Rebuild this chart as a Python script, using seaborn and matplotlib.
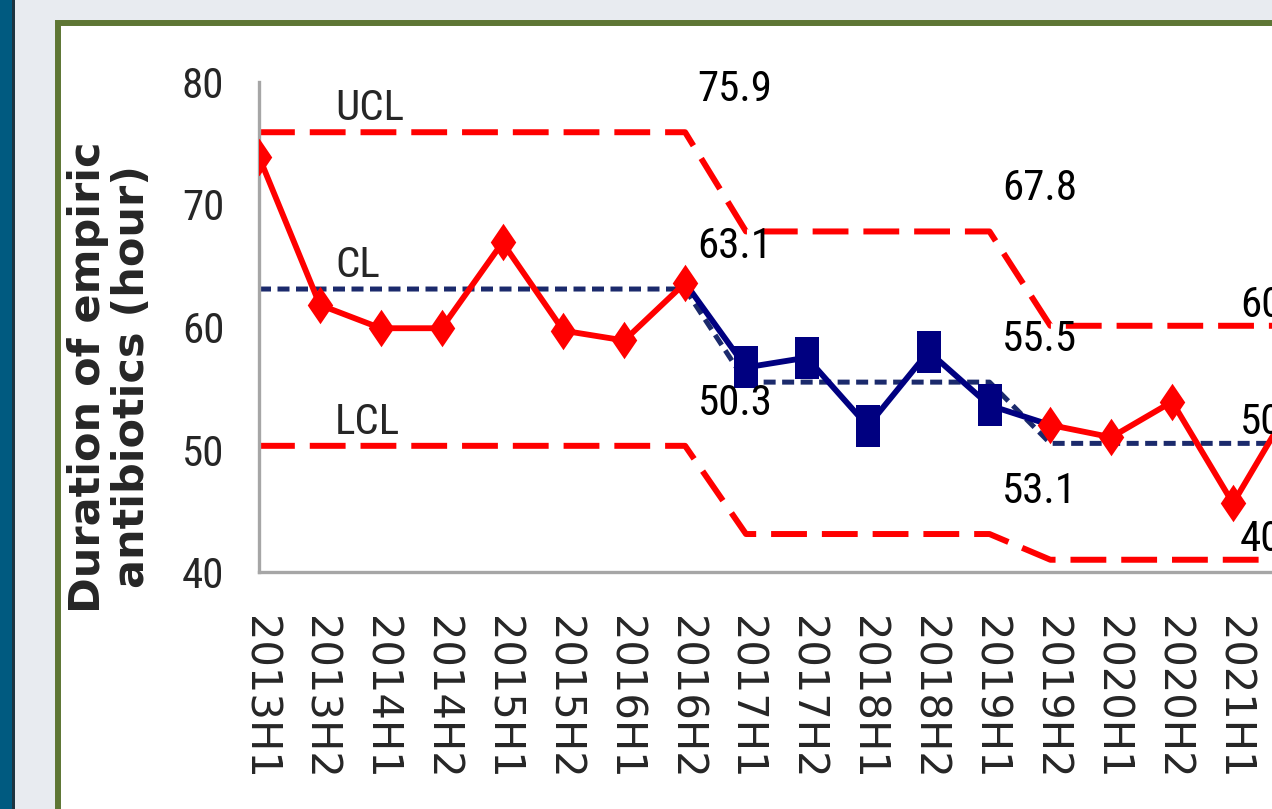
import numpy as np
import pandas as pd
import matplotlib.pyplot as plt
import seaborn as sns
from matplotlib.patches import Rectangle
from matplotlib.font_manager import FontProperties, findfont

periods = ["2013H1", "2013H2", "2014H1", "2014H2", "2015H1", "2015H2",
           "2016H1", "2016H2", "2017H1", "2017H2", "2018H1", "2018H2",
           "2019H1", "2019H2", "2020H1", "2020H2", "2021H1", "2021H2"]
duration = [73.9, 61.8, 59.9, 59.9, 66.9, 59.7, 58.9, 63.6,
            56.7, 57.5, 51.9, 58.0, 53.6,
            52.0, 51.0, 53.9, 45.6, 54.0]
# 0 = baseline, 1 = intervention, 2 = after
phase = [0] * 8 + [1] * 5 + [2] * 5

ucl = [75.9, 67.8, 60.1]
cl = [63.1, 55.5, 50.5]
lcl = [50.3, 43.1, 41.0]
ucl_text = ["75.9", "67.8", "60.1"]
cl_text = ["63.1", "55.5", "50.5"]
lcl_text = ["50.3", "53.1", "40.9"]
label_at = [7, 12, 16]


def pick_font(names):
    for n in names:
        try:
            findfont(FontProperties(family=n), fallback_to_default=False)
            return n
        except ValueError:
            pass
    return "DejaVu Sans"


NARROW = pick_font(["Liberation Sans Narrow", "Roboto Condensed", "Open Sans Condensed"])

RED = "#ff0000"
NAVY = "#000080"
CLNAVY = "#1b2a6c"
GRID = "#a6a6a6"

sns.set_style("white")
plt.rcParams["font.family"] = ["DejaVu Sans"]

df = pd.DataFrame({"idx": np.arange(len(periods)), "period": periods,
                   "duration": duration, "phase": phase})
df["ucl"] = [ucl[p] for p in phase]
df["cl"] = [cl[p] for p in phase]
df["lcl"] = [lcl[p] for p in phase]

W, H = 1272, 809
fig = plt.figure(figsize=(W / 100, H / 100), dpi=100)
fig.patch.set_facecolor("#e8ebf0")

# slide background pieces (pixel coords)
fig.patches.append(Rectangle((0, 0), 12, H, transform=None, facecolor="#005a80",
                             edgecolor="none", zorder=-2))
fig.patches.append(Rectangle((12, 0), 3, H, transform=None, facecolor="#1d3440",
                             edgecolor="none", zorder=-2))
fig.patches.append(Rectangle((58, -20), 1400, H - 23 + 20, transform=None,
                             facecolor="white", edgecolor="#5e7634", lw=4.3, zorder=-2))

step = 60.875
ax = fig.add_axes([259 / W, (H - 572) / H, step * 18 / W, (572 - 82) / H])
ax.set_facecolor("none")
ax.set_zorder(2)

diamond = [(0, 1), (0.68, 0), (0, -1), (-0.68, 0)]
square = [(-0.6, -1), (0.6, -1), (0.6, 1), (-0.6, 1)]

# control limits
sns.lineplot(data=df, x="idx", y="ucl", color=RED, lw=4.3,
             linestyle=(0, (6, 2.5)), ax=ax, zorder=2)
sns.lineplot(data=df, x="idx", y="lcl", color=RED, lw=4.3,
             linestyle=(0, (6, 2.5)), ax=ax, zorder=2)
sns.lineplot(data=df, x="idx", y="cl", color=CLNAVY, lw=3.6,
             linestyle=(0, (2.4, 1.3)), ax=ax, zorder=2)

# intervention phase (navy)
mid = df[(df.idx >= 7) & (df.idx <= 13)]
sns.lineplot(data=mid, x="idx", y="duration", color=NAVY, lw=4.2, ax=ax, zorder=3)
sns.lineplot(data=df[df.phase == 1], x="idx", y="duration", color=NAVY,
             linestyle="none", marker=square, markersize=30, markeredgewidth=0,
             ax=ax, zorder=4)

# baseline and after phases (red)
for p in [0, 2]:
    sns.lineplot(data=df[df.phase == p], x="idx", y="duration", color=RED, lw=4.2,
                 marker=diamond, markersize=27, markeredgewidth=0, ax=ax, zorder=5)

# value labels on limits
offs = [(9, 16), (9, 16), (5, 0)]
for k in range(3):
    for val, txt in [(ucl[k], ucl_text[k]), (cl[k], cl_text[k]), (lcl[k], lcl_text[k])]:
        ax.annotate(txt, (label_at[k], val), xytext=offs[k], textcoords="offset points",
                    ha="left", va="bottom", fontsize=31, family=[NARROW, "DejaVu Sans"],
                    color="black", annotation_clip=False, zorder=6)

for val, txt in [(ucl[0], "UCL"), (cl[0], "CL"), (lcl[0], "LCL")]:
    ax.annotate(txt, (1.25, val), xytext=(0, 2), textcoords="offset points",
                ha="left", va="bottom", fontsize=31, family=[NARROW, "DejaVu Sans"],
                zorder=6)

ax.set_xlim(0, 18)
ax.set_ylim(40, 80)
ax.set_xticks(df.idx)
ax.set_xticklabels(periods, rotation=270, fontsize=30, family="DejaVu Sans")
ax.set_yticks([40, 50, 60, 70, 80])
ax.set_yticklabels(["40", "50", "60", "70", "80"], fontsize=31,
                   family=[NARROW, "DejaVu Sans"])
ax.tick_params(axis="x", length=14, width=2, color="#b8b8b8", pad=18)
ax.tick_params(axis="y", length=8, width=2.5, color="#b8b8b8", pad=17)
ax.set_xlabel("")
ax.set_ylabel("")
for s in ["top", "right"]:
    ax.spines[s].set_visible(False)
for s in ["left", "bottom"]:
    ax.spines[s].set_color(GRID)
    ax.spines[s].set_linewidth(2.4)

fig.text(110 / W, 1 - 377 / H, "Duration of empiric\nantibiotics (hour)",
         rotation=90, ha="center", va="center", multialignment="center",
         fontsize=31, fontweight="bold", linespacing=1.08)

fig.savefig("out.png", dpi=100)
